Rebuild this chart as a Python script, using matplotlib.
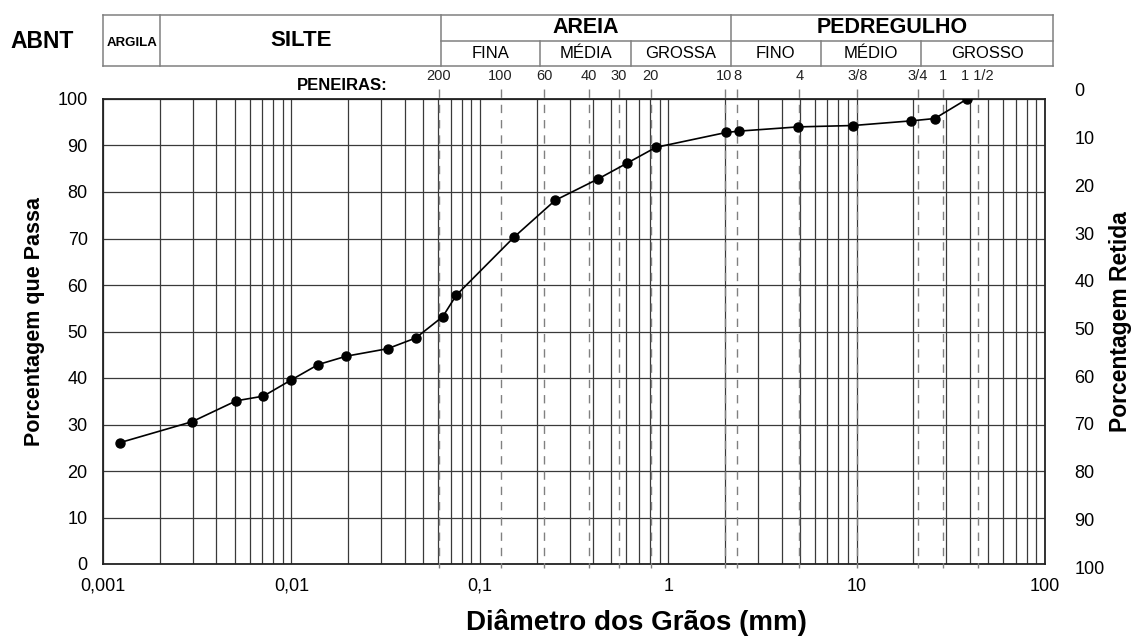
import numpy as np
import matplotlib.pyplot as plt
from matplotlib import transforms
from matplotlib.ticker import FuncFormatter, FixedLocator

plt.rcParams['font.family'] = ['Liberation Sans', 'DejaVu Sans']

# curva granulometrica (diametro em mm, % que passa)
diametro = [0.00123, 0.00297, 0.0051, 0.0071, 0.0100, 0.0139, 0.0196, 0.0324,
            0.0457, 0.0636, 0.075, 0.152, 0.251, 0.424, 0.605, 0.86, 2.03,
            2.39, 4.88, 9.6, 19.5, 26.0, 38.6]
passante = [26.1, 30.6, 35.1, 36.1, 39.6, 42.9, 44.7, 46.3, 48.6, 53.2, 57.8,
            70.3, 78.2, 82.8, 86.2, 89.6, 92.8, 93.1, 94.0, 94.3, 95.3, 95.8,
            100.0]

# peneiras marcadas no topo do grafico
peneiras = ['200', '100', '60', '40', '30', '20', '10', '8', '4', '3/8', '3/4',
            '1', '1 1/2']
abertura = [0.0607, 0.129, 0.219, 0.381, 0.548, 0.807, 1.99, 2.33, 4.96, 10.1,
            21.1, 28.8, 43.9]

# classificacao ABNT
classes = ['ARGILA', 'SILTE', 'AREIA', 'PEDREGULHO']
limites = [0.001, 0.002, 0.06, 2, 100]
sub_areia = ['FINA', 'MÉDIA', 'GROSSA']
lim_areia = [0.06, 0.2, 0.6, 2]
sub_pedr = ['FINO', 'MÉDIO', 'GROSSO']
lim_pedr = [2, 6, 20, 100]

x_ticks = [0.001, 0.01, 0.1, 1, 10, 100]
x_labels = ['0,001', '0,01', '0,1', '1', '10', '100']
y_ticks = list(range(0, 101, 10))

W, H = 1135, 639
fig = plt.figure(figsize=(W / 100, H / 100), dpi=100)

def fx(px):
    return px / W

def fy(py):
    return 1 - py / H

L, R, T, B = 103, 1045, 99, 564
ax = fig.add_axes([fx(L), fy(B), fx(R - L), fy(T) - fy(B)])
ax.set_xscale('log')
ax.set_xlim(0.001, 100)
ax.set_ylim(0, 100)
ax.set_yticks(y_ticks)
ax.xaxis.set_major_locator(FixedLocator(x_ticks))
ax.xaxis.set_major_formatter(FuncFormatter(lambda v, p: x_labels[x_ticks.index(v)] if v in x_ticks else ''))
ax.xaxis.set_minor_formatter(FuncFormatter(lambda v, p: ''))
ax.grid(True, which='both', axis='x', color='#3a3a3a', lw=0.9)
ax.grid(True, which='major', axis='y', color='#3a3a3a', lw=0.9)
ax.tick_params(which='both', length=0)
ax.tick_params(axis='x', labelsize=13, pad=10)
ax.tick_params(axis='y', labelsize=13, pad=11)
for s in ax.spines.values():
    s.set_linewidth(1.3)
    s.set_color('#222222')

ax.plot(diametro, passante, '-o', color='black', lw=1.2, ms=6.5, zorder=5)

# eixo secundario: porcentagem retida
ax2 = fig.add_axes([fx(L), fy(567), fx(R - L), fy(90) - fy(567)])
ax2.set_facecolor('none')
for s in ax2.spines.values():
    s.set_visible(False)
ax2.set_ylim(100, 0)
ax2.set_yticks(y_ticks)
ax2.set_xticks([])
ax2.yaxis.tick_right()
ax2.tick_params(length=0, labelsize=13, pad=21)

# linhas das peneiras
tr = transforms.blended_transform_factory(ax.transData, fig.transFigure)
for nome, d in zip(peneiras, abertura):
    ax.plot([d, d], [fy(89), fy(568)], transform=tr, clip_on=False,
            color='#808080', lw=1.0, dashes=(6, 5), zorder=3)
    ax.text(d, fy(76), nome, transform=tr, ha='center', va='center',
            fontsize=10.5, color='#222222')
fig.text(fx(342), fy(85), 'PENEIRAS:', ha='center', va='center',
         fontsize=12, fontweight='bold')

# tabela da classificacao (um pouco mais larga que o eixo)
esc = transforms.Affine2D().translate(-L, 0).scale(1.009, 1).translate(L, 0)
trt = transforms.blended_transform_factory(ax.transData + esc, fig.transFigure)
yt, ym, yb = fy(14.7), fy(40.7), fy(66)
kw = dict(transform=trt, clip_on=False, color='#808080', lw=1.1)
ax.plot([limites[0], limites[-1]], [yt, yt], **kw)
ax.plot([limites[0], limites[-1]], [yb, yb], **kw)
ax.plot([lim_areia[0], lim_pedr[-1]], [ym, ym], **kw)
for v in limites:
    ax.plot([v, v], [yb, yt], **kw)
for v in lim_areia[1:-1] + lim_pedr[1:-1]:
    ax.plot([v, v], [yb, ym], **kw)

def centro(a, b):
    return np.sqrt(a * b)

ax.text(centro(limites[0], limites[1]), (yt + yb) / 2 - 0.004, classes[0],
        transform=trt, ha='center', va='center', fontsize=9.5, fontweight='bold')
ax.text(centro(limites[1], limites[2]), (yt + yb) / 2, classes[1],
        transform=trt, ha='center', va='center', fontsize=16, fontweight='bold')
for i in (2, 3):
    ax.text(centro(limites[i], limites[i + 1]), (yt + ym) / 2, classes[i],
            transform=trt, ha='center', va='center', fontsize=15.5, fontweight='bold')
for nomes, lims in ((sub_areia, lim_areia), (sub_pedr, lim_pedr)):
    for j, nome in enumerate(nomes):
        ax.text(centro(lims[j], lims[j + 1]), (ym + yb) / 2, nome,
                transform=trt, ha='center', va='center', fontsize=12)

fig.text(fx(42), fy(41), 'ABNT', ha='center', va='center',
         fontsize=16.5, fontweight='bold')

fig.text(fx(35), fy(322), 'Porcentagem que Passa', rotation=90,
         ha='center', va='center', fontsize=15.5, fontweight='bold')
fig.text(fx(1121), fy(322), 'Porcentagem Retida', rotation=90,
         ha='center', va='center', fontsize=16.5, fontweight='bold')
fig.text(fx(636), fy(622), 'Diâmetro dos Grãos (mm)', ha='center',
         va='center', fontsize=20, fontweight='bold')

fig.savefig('out.png', dpi=100)
